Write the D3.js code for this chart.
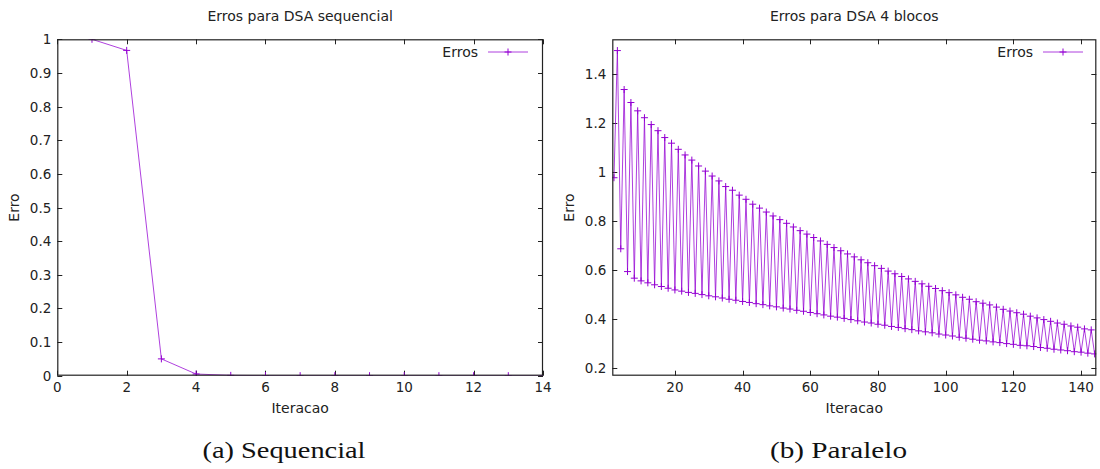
<!DOCTYPE html>
<html><head><meta charset="utf-8">
<script src="https://cdn.jsdelivr.net/npm/d3@7"></script>
<style>
html,body{margin:0;padding:0;background:#fff;}
svg text{font-family:"DejaVu Sans",sans-serif;fill:#222;}
</style></head>
<body>
<svg id="chart" width="1100" height="469"></svg>
<script>
// ---------- data ----------
const seqTitle = "Erros para DSA sequencial";
const parTitle = "Erros para DSA 4 blocos";
const seriesName = "Erros";
const xLabel = "Iteracao";
const yLabel = "Erro";
const captions = ["(a) Sequencial", "(b) Paralelo"];

const seqIterations = [1,2,3,4,5,6,7,8,9,10,11,12,13,14];
const seqErrors = [1.0, 0.967, 0.05, 0.005, 0.001, 0.0003, 0.0001, 0, 0, 0, 0, 0, 0, 0];
const seqXTicks = [0,2,4,6,8,10,12,14];
const seqYTicks = [0,0.1,0.2,0.3,0.4,0.5,0.6,0.7,0.8,0.9,1];

const parFirstIteration = 2;
const parErrors = [
0.975,1.494,0.685,1.335,0.592,1.282,0.565,1.248,0.554,1.220,
0.546,1.192,0.538,1.167,0.531,1.139,0.524,1.116,0.517,1.091,
0.512,1.068,0.507,1.047,0.503,1.023,0.498,1.002,0.493,0.982,
0.489,0.962,0.484,0.939,0.479,0.924,0.475,0.904,0.470,0.887,
0.466,0.867,0.461,0.851,0.457,0.835,0.452,0.819,0.448,0.804,
0.443,0.789,0.439,0.774,0.434,0.759,0.430,0.745,0.425,0.731,
0.420,0.717,0.415,0.703,0.410,0.690,0.406,0.677,0.401,0.664,
0.396,0.652,0.391,0.640,0.386,0.628,0.382,0.616,0.377,0.605,
0.373,0.594,0.368,0.583,0.364,0.572,0.359,0.562,0.355,0.552,
0.350,0.542,0.346,0.532,0.342,0.523,0.337,0.514,0.333,0.506,
0.329,0.497,0.324,0.487,0.320,0.479,0.316,0.469,0.312,0.463,
0.309,0.456,0.305,0.447,0.302,0.438,0.298,0.431,0.295,0.424,
0.291,0.418,0.289,0.410,0.286,0.403,0.282,0.396,0.279,0.389,
0.275,0.382,0.272,0.377,0.269,0.370,0.265,0.365,0.263,0.358,
0.259,0.354,0.256
];
const parXTicks = [20,40,60,80,100,120,140];
const parYTicks = [0.2,0.4,0.6,0.8,1,1.2,1.4];
const parXDomain = [1.5, 144.5];
const parYDomain = [0.167, 1.540];

// ---------- drawing ----------
const svg = d3.select("#chart");
const color = "#9400d3";
const axisColor = "#222";
const tickLen = 5;

function panel(opts){
  const {left,right,top,bottom,xDomain,yDomain,xTicks,yTicks,xs,ys,title,caption,captionX,captionLen,yLabelX,legendRight,id} = opts;
  const x = d3.scaleLinear().domain(xDomain).range([left,right]);
  const y = d3.scaleLinear().domain(yDomain).range([bottom,top]);
  const g = svg.append("g");

  g.append("clipPath").attr("id",id).append("rect")
    .attr("x",left).attr("y",top).attr("width",right-left).attr("height",bottom-top);

  // ticks (inward, mirrored)
  const tg = g.append("g").attr("stroke",axisColor).attr("stroke-width",1);
  xTicks.forEach(t=>{
    const px = Math.round(x(t))+0.5;
    tg.append("line").attr("x1",px).attr("x2",px).attr("y1",bottom).attr("y2",bottom-tickLen);
    tg.append("line").attr("x1",px).attr("x2",px).attr("y1",top).attr("y2",top+tickLen);
  });
  yTicks.forEach(t=>{
    const py = Math.round(y(t))+0.5;
    tg.append("line").attr("x1",left).attr("x2",left+tickLen).attr("y1",py).attr("y2",py);
    tg.append("line").attr("x1",right).attr("x2",right-tickLen).attr("y1",py).attr("y2",py);
  });
  // tick labels
  xTicks.forEach(t=>{
    g.append("text").attr("x",x(t)).attr("y",bottom+16).attr("text-anchor","middle")
      .attr("font-size",13.5).text(d3.format("~g")(t));
  });
  yTicks.forEach(t=>{
    g.append("text").attr("x",left-6).attr("y",y(t)+5).attr("text-anchor","end")
      .attr("font-size",13.5).text(d3.format("~g")(t));
  });

  // data line + points
  const data = xs.map((v,i)=>[v,ys[i]]);
  const dg = g.append("g").attr("clip-path",`url(#${id})`);
  dg.append("path").datum(data)
    .attr("fill","none").attr("stroke",color).attr("stroke-width",1).attr("stroke-opacity",0.75)
    .attr("d", d3.line().x(d=>x(d[0])).y(d=>y(d[1])));
  const s = 3.5;
  dg.selectAll("path.pt").data(data).enter().append("path").attr("class","pt")
    .attr("stroke",color).attr("stroke-width",1).attr("fill","none")
    .attr("d", d=>{const cx=x(d[0]), cy=y(d[1]); return `M${cx-s},${cy}H${cx+s}M${cx},${cy-s}V${cy+s}`;});

  // border
  g.append("rect").attr("x",left+0.5).attr("y",top+0.5)
    .attr("width",right-left-1).attr("height",bottom-top-1)
    .attr("fill","none").attr("stroke",axisColor).attr("stroke-width",1.2);

  // title
  g.append("text").attr("x",(left+right)/2).attr("y",21).attr("text-anchor","middle")
    .attr("font-size",14).text(title);
  // x label
  g.append("text").attr("x",(left+right)/2).attr("y",bottom+37).attr("text-anchor","middle")
    .attr("font-size",14).text(xLabel);
  // y label
  g.append("text").attr("transform",`translate(${yLabelX},${(top+bottom)/2}) rotate(-90)`)
    .attr("text-anchor","middle").attr("font-size",14).text(yLabel);

  // legend
  const ly = 52;
  g.append("text").attr("x",legendRight-50).attr("y",ly+5).attr("text-anchor","end")
    .attr("font-size",14).text(seriesName);
  g.append("line").attr("x1",legendRight-40).attr("x2",legendRight).attr("y1",ly).attr("y2",ly)
    .attr("stroke",color).attr("stroke-width",1).attr("stroke-opacity",0.75);
  const lc = legendRight-20;
  g.append("path").attr("d",`M${lc-s},${ly}H${lc+s}M${lc},${ly-s}V${ly+s}`)
    .attr("stroke",color).attr("stroke-width",1);

  // caption
  g.append("text").attr("x",captionX).attr("y",458).attr("text-anchor","middle")
    .style("font-family","'Liberation Serif',serif")
    .attr("font-size",24).attr("textLength",captionLen).attr("lengthAdjust","spacingAndGlyphs")
    .style("fill","#111").text(caption);
}

panel({id:"clipA", left:57.3, right:543, top:39.3, bottom:375.7,
  xDomain:[0,14], yDomain:[0,1], xTicks:seqXTicks, yTicks:seqYTicks,
  xs:seqIterations, ys:seqErrors, title:seqTitle, caption:captions[0],
  captionX:284, captionLen:163, yLabelX:19, legendRight:528});

const parIterations = parErrors.map((_,i)=>parFirstIteration+i);
panel({id:"clipB", left:612.3, right:1096.3, top:39.3, bottom:375.7,
  xDomain:parXDomain, yDomain:parYDomain, xTicks:parXTicks, yTicks:parYTicks,
  xs:parIterations, ys:parErrors, title:parTitle, caption:captions[1],
  captionX:838.5, captionLen:137, yLabelX:574, legendRight:1083});
</script>
</body></html>
